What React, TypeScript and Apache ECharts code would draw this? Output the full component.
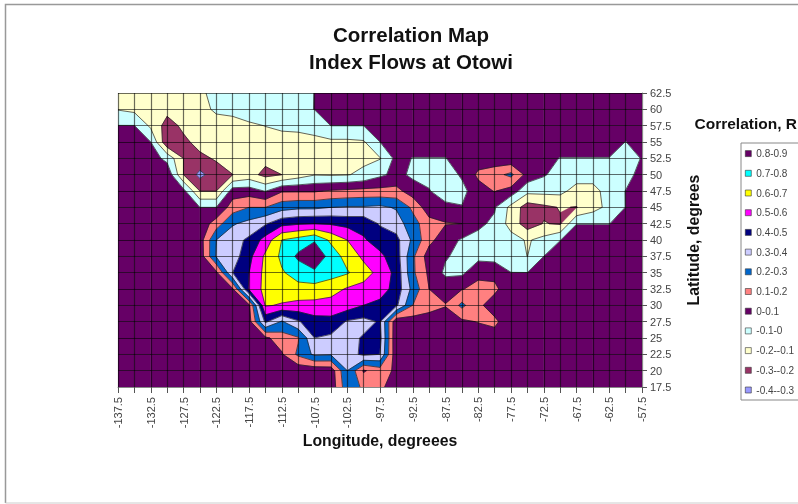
import React, { useEffect, useRef } from "react";
import * as echarts from "echarts";

const longitudes = [-137.5,-135,-132.5,-130,-127.5,-125,-122.5,-120,-117.5,-115,-112.5,-110,-107.5,-105,-102.5,-100,-97.5,-95,-92.5,-90,-87.5,-85,-82.5,-80,-77.5,-75,-72.5,-70,-67.5,-65,-62.5,-60,-57.5];
const latitudes = [62.5,60,57.5,55,52.5,50,47.5,45,42.5,40,37.5,35,32.5,30,27.5,25,22.5,20,17.5];

const r625 = [-.15,-.15,-.15,-.15,-.15,-.13,-.05,-.05,-.05,-.05,-.05,-.04,.002,.05,.05,.05,.05,.05,.05,.05,.05,.05,.05,.05,.05,.05,.05,.05,.05,.05,.05,.05,.05];
const r600 = [-.105,-.125,-.14,-.17,-.16,-.14,-.08,-.07,-.05,-.05,-.05,-.03,.002,.05,.05,.05,.05,.05,.05,.05,.05,.05,.05,.05,.05,.05,.05,.05,.05,.05,.05,.05,.05];
const r575 = [.002,.002,-.12,-.24,-.18,-.15,-.15,-.14,-.115,-.098,-.08,-.08,-.07,.001,.001,.001,.05,.05,.05,.05,.05,.05,.05,.05,.05,.05,.05,.05,.05,.05,.05,.05,.05];
const r550 = [.05,.05,0,-.28,-.22,-.17,-.16,-.15,-.15,-.14,-.14,-.13,-.12,-.12,-.12,-.11,0,.05,.05,.05,.05,.05,.05,.05,.05,.05,.05,.05,.05,.05,.05,-.002,.05];
const r525 = [.05,.05,.05,-.03,-.2,-.22,-.19,-.16,-.15,-.17,-.14,-.13,-.13,-.13,-.13,-.12,-.105,.03,-.003,-.003,-.003,.05,.05,.03,.024,.05,.03,-.003,-.003,-.003,-.003,-.05,.006];
const r500 = [.05,.05,.05,.08,-.2,-.33,-.24,-.201,-.16,-.23,-.2,-.15,-.105,-.11,-.105,-.08,-.02,.03,-.02,-.05,-.05,.014,.12,.167,.225,.065,.01,-.04,-.05,-.05,-.05,-.03,.03];
const r475 = [.05,.05,.05,.05,.03,-.2,-.2,.05,.05,-.005,.09,.09,.09,.11,.12,.13,.13,.13,.05,.01,-.1,-.03,.06,.105,.059,-.07,-.07,-.07,-.14,-.14,-.05,.002,.05];
const r450 = [.05,.05,.05,.05,.05,0,0,.15,.2,.2,.26,.28,.28,.3,.31,.31,.32,.29,.18,.04,.05,.005,.05,.01,-.13,-.25,-.22,-.195,-.203,-.14,-.07,.002,.05];
const r425 = [.05,.05,.05,.05,.05,.03,.15,.29,.33,.39,.47,.49,.5,.49,.47,.47,.39,.35,.24,.14,.105,.1005,.02,-.02,-.14,-.25,-.195,-.21,-.002,-.002,-.002,.05,.05];
const r400 = [.05,.05,.05,.05,.05,.05,.3,.36,.42,.54,.701,.74,.79,.68,.6,.51,.46,.43,.28,.13,.04,-.01,-.03,-.04,-.06,-.11,-.07,-.002,.05,.05,.05,.05,.05];
const r375 = [.05,.05,.05,.05,.05,.04,.31,.35,.47,.62,.72,.82,.88,.76,.66,.58,.52,.45,.22,.05,.01,-.03,-.03,-.04,-.05,-.101,0,.05,.05,.05,.05,.05,.05];
const r350 = [.05,.05,.05,.05,.05,.04,.08,.4,.5,.63,.69,.74,.78,.74,.71,.64,.57,.47,.22,.08,-.02,-.02,.075,.075,.001,.001,.05,.05,.05,.05,.05,.05,.05];
const r325 = [.05,.05,.05,.05,.05,.05,.05,.09,.52,.63,.66,.67,.66,.64,.59,.57,.55,.46,.27,.1,.06,.095,.13,.12,.04,.05,.05,.05,.05,.05,.05,.05,.05];
const r300 = [.05,.05,.05,.05,.05,.05,.05,.05,.08,.61,.59,.57,.57,.56,.55,.5,.47,.42,.2,.14,.105,.225,.12,.055,.05,.05,.05,.05,.05,.05,.05,.05,.05];
const r275 = [.05,.05,.05,.05,.05,.05,.05,.05,.06,.42,.29,.39,.46,.47,.39,.37,.41,.02,.05,.05,.05,.08,.105,.12,.04,.05,.05,.05,.05,.05,.05,.05,.05];
const r250 = [.05,.05,.05,.05,.05,.05,.05,.05,.05,.08,.15,.19,.4,.38,.37,.41,.43,.01,.05,.05,.05,.05,.04,.063,.05,.05,.05,.05,.05,.05,.05,.05,.05];
const r225 = [.05,.05,.05,.05,.05,.05,.05,.05,.05,.05,.09,.22,.32,.31,.36,.42,.4,.02,.05,.05,.05,.05,.05,.05,.05,.05,.05,.05,.05,.05,.05,.05,.05];
const r200 = [.05,.05,.05,.05,.05,.05,.05,.05,.05,.05,.05,.03,.03,.04,.3,.09,.15,.08,.05,.05,.05,.05,.05,.05,.05,.05,.05,.05,.05,.05,.05,.05,.05];
const r175 = [.05,.05,.05,.05,.05,.05,.05,.05,.05,.05,.05,.05,.05,.03,.27,.18,.12,.05,.05,.05,.05,.05,.05,.05,.05,.05,.05,.05,.05,.05,.05,.05,.05];
const correlation = [r625,r600,r575,r550,r525,r500,r475,r450,r425,r400,r375,r350,r325,r300,r275,r250,r225,r200,r175];

const bandNames = ["0.8-0.9","0.7-0.8","0.6-0.7","0.5-0.6","0.4-0.5","0.3-0.4","0.2-0.3","0.1-0.2","0-0.1","-0.1-0","-0.2--0.1","-0.3--0.2","-0.4--0.3"];
const bandLows = [0.8,0.7,0.6,0.5,0.4,0.3,0.2,0.1,0,-0.1,-0.2,-0.3,-0.4];
const bandColors = ["#660066","#00FFFF","#FFFF00","#FF00FF","#000080","#CCCCFF","#0066CC","#FF8080","#660066","#CCFFFF","#FFFFCC","#993366","#9999FF"];
const contourLevels = [0.8,0.7,0.6,0.5,0.4,0.3,0.2,0.1,0,-0.1,-0.2,-0.3];

const FONT = "'Liberation Sans', Arial, sans-serif";
type Node3 = [number, number, number];

function clip(poly: Node3[], level: number, keepAbove: boolean): Node3[] {
  const out: Node3[] = [];
  const inside = (p: Node3) => (keepAbove ? p[2] >= level : p[2] < level);
  for (let k = 0; k < poly.length; k++) {
    const a = poly[k];
    const b = poly[(k + 1) % poly.length];
    const ia = inside(a);
    const ib = inside(b);
    if (ia) out.push(a);
    if (ia !== ib) {
      const t = (level - a[2]) / (b[2] - a[2]);
      out.push([a[0] + t * (b[0] - a[0]), a[1] + t * (b[1] - a[1]), level]);
    }
  }
  return out;
}

function cellNodes(col: number, row: number): Node3[] {
  return [
    [longitudes[col], latitudes[row], correlation[row][col]],
    [longitudes[col + 1], latitudes[row], correlation[row][col + 1]],
    [longitudes[col + 1], latitudes[row + 1], correlation[row + 1][col + 1]],
    [longitudes[col], latitudes[row + 1], correlation[row + 1][col]],
  ];
}

function bandPiece(col: number, row: number, low: number): Node3[] {
  const above = clip(cellNodes(col, row), low, true);
  return above.length ? clip(above, low + 0.1, false) : above;
}

function crossings(col: number, row: number, level: number): Node3[] {
  const nodes = cellNodes(col, row);
  const out: Node3[] = [];
  for (let k = 0; k < 4; k++) {
    const a = nodes[k];
    const b = nodes[(k + 1) % 4];
    if (a[2] >= level !== b[2] >= level) {
      const t = (level - a[2]) / (b[2] - a[2]);
      out.push([a[0] + t * (b[0] - a[0]), a[1] + t * (b[1] - a[1]), level]);
    }
  }
  return out;
}

const cells: [number, number][] = [];
for (let row = 0; row < latitudes.length - 1; row++)
  for (let col = 0; col < longitudes.length - 1; col++) cells.push([col, row]);

function bandSeries(idx: number) {
  const low = bandLows[idx];
  const data = cells
    .filter(([c, r]) => bandPiece(c, r, low).length >= 3)
    .map(([c, r]) => [longitudes[c], latitudes[r], c, r]);
  return {
    type: "custom",
    name: bandNames[idx],
    coordinateSystem: "cartesian2d",
    silent: true,
    clip: true,
    z: 2,
    itemStyle: { color: bandColors[idx] },
    encode: { x: 0, y: 1 },
    data,
    renderItem: (_: any, api: any) => {
      const points = bandPiece(api.value(2), api.value(3), low).map((p) => api.coord([p[0], p[1]]));
      return {
        type: "polygon",
        shape: { points },
        style: { fill: bandColors[idx], stroke: bandColors[idx], lineWidth: 0.5 },
      };
    },
  };
}

const contourSeries = {
  type: "custom",
  name: "contours",
  coordinateSystem: "cartesian2d",
  silent: true,
  z: 3,
  encode: { x: 0, y: 1 },
  data: cells
    .filter(([c, r]) => contourLevels.some((l) => crossings(c, r, l).length >= 2))
    .map(([c, r]) => [longitudes[c], latitudes[r], c, r]),
  renderItem: (_: any, api: any) => {
    const children: any[] = [];
    for (const level of contourLevels) {
      const pts = crossings(api.value(2), api.value(3), level);
      for (let k = 0; k + 1 < pts.length; k += 2) {
        const a = api.coord([pts[k][0], pts[k][1]]);
        const b = api.coord([pts[k + 1][0], pts[k + 1][1]]);
        children.push({
          type: "line",
          shape: { x1: a[0], y1: a[1], x2: b[0], y2: b[1] },
          style: { stroke: "#1a1a1a", lineWidth: 0.8, opacity: 0.85 },
        });
      }
    }
    return { type: "group", children };
  },
};

const axisText = { color: "#444", fontSize: 11, fontFamily: FONT };
const nameText = { color: "#111", fontSize: 15.8, fontWeight: "bold" as const, fontFamily: FONT };
const gridLine = { show: true, lineStyle: { color: "rgba(0,0,0,0.58)", width: 1.2 } };

export default function App() {
  const ref = useRef<HTMLDivElement>(null);
  useEffect(() => {
    document.body.style.margin = "0";
    const chart = echarts.init(ref.current!, undefined, { renderer: "svg" });
    chart.setOption({
      animation: false,
      backgroundColor: "#fff",
      title: {
        text: "Correlation Map\nIndex Flows at Otowi",
        left: 406,
        top: 16,
        textAlign: "center",
        textStyle: { fontSize: 20.5, fontWeight: "bold", fontFamily: FONT, color: "#111", lineHeight: 27 },
      },
      grid: { left: 118, top: 93, width: 524, height: 294, containLabel: false },
      xAxis: {
        type: "value",
        min: -137.5,
        max: -57.5,
        interval: 2.5,
        z: 6,
        name: "Longitude, degreees",
        nameLocation: "middle",
        nameGap: 45,
        nameMoveOverlap: false,
        nameTextStyle: nameText,
        axisLine: { show: true, lineStyle: { color: "#888" } },
        axisTick: { show: true, length: 6, lineStyle: { color: "#555" } },
        axisLabel: {
          ...axisText,
          rotate: 90,
          margin: 10,
          showMinLabel: true,
          showMaxLabel: true,
          formatter: (v: number) => (Math.abs((v + 137.5) % 5) < 1e-6 ? String(v) : ""),
        },
        splitLine: gridLine,
      },
      yAxis: {
        type: "value",
        position: "right",
        min: 17.5,
        max: 62.5,
        interval: 2.5,
        z: 6,
        name: "Latitude, degrees",
        nameLocation: "middle",
        nameRotate: 90,
        nameGap: 43,
        nameMoveOverlap: false,
        nameTextStyle: nameText,
        axisLine: { show: true, lineStyle: { color: "#888" } },
        axisTick: { show: true, length: 5, lineStyle: { color: "#555" } },
        axisLabel: { ...axisText, margin: 8, formatter: (v: number) => String(v) },
        splitLine: gridLine,
      },
      legend: {
        orient: "vertical",
        left: 741,
        top: 143,
        padding: [4.6, 20, 4, 4],
        data: bandNames,
        icon: "rect",
        itemWidth: 6,
        itemHeight: 6,
        itemGap: 7.7,
        selectedMode: false,
        borderColor: "#888",
        borderWidth: 1,
        backgroundColor: "#fff",
        itemStyle: { borderColor: "#333", borderWidth: 0.6 },
        textStyle: { color: "#444", fontSize: 10, fontFamily: FONT, lineHeight: 12 },
      },
      graphic: [
        { type: "polyline", silent: true, z: -1, shape: { points: [[5.5, 503], [5.5, 4.5], [800, 4.5]] }, style: { fill: "none", stroke: "#999", lineWidth: 1.5 } },
        { type: "line", silent: true, z: -1, shape: { x1: 5.5, y1: 503, x2: 800, y2: 503 }, style: { stroke: "#ccc", lineWidth: 1 } },
        { type: "text", x: 694.5, y: 115, silent: true, style: { text: "Correlation, R", font: `bold 15.5px ${FONT}`, fill: "#111" } },
      ],
      series: [...bandNames.map((_, i) => bandSeries(i)), contourSeries],
    });
    return () => chart.dispose();
  }, []);
  return <div ref={ref} style={{ position: "absolute", left: 0, top: 0, width: 798, height: 504, overflow: "hidden", filter: "blur(0.45px)" }} />;
}
